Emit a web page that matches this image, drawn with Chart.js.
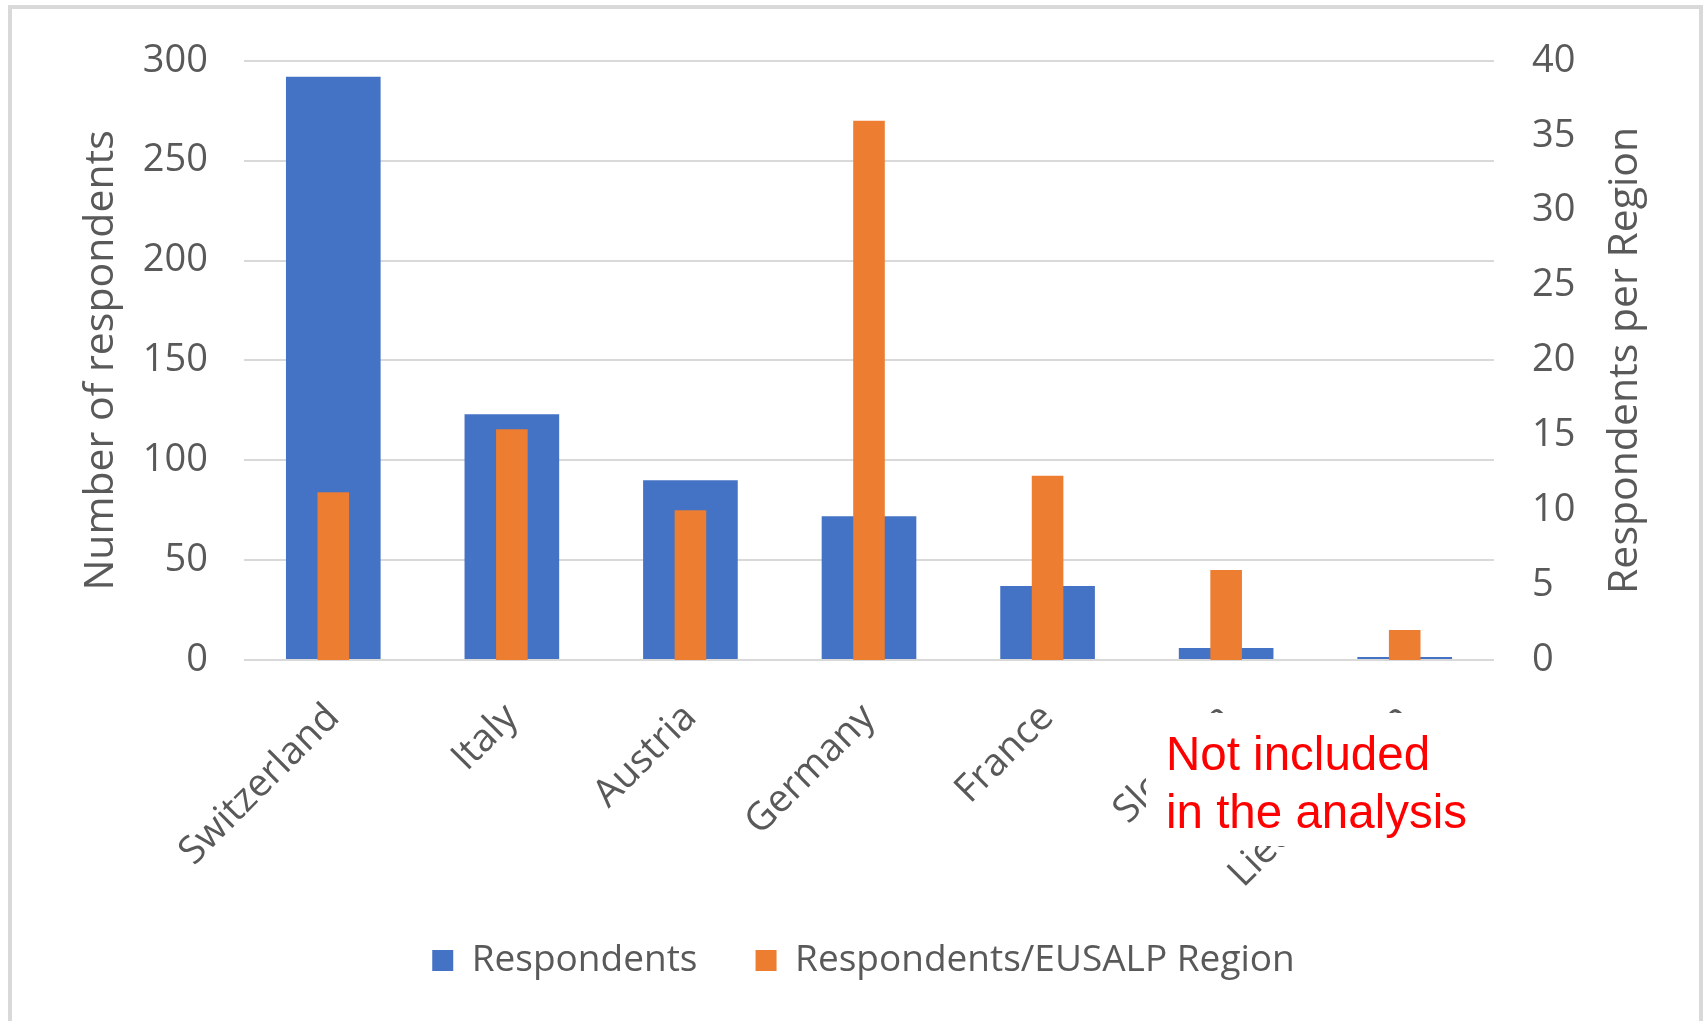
<!DOCTYPE html>
<html><head><meta charset="utf-8">
<script src="https://cdn.jsdelivr.net/npm/chart.js@4.4.1/dist/chart.umd.min.js"></script>
<style>
html,body{margin:0;padding:0;background:#fff;overflow:hidden;}
#frame{position:absolute;left:8px;top:5px;width:1695px;height:1100px;border:4px solid #d9d9d9;box-sizing:border-box;}
#wrap{position:absolute;left:0;top:0;width:1707px;height:1021px;}
</style></head><body>
<div id="frame"></div>
<div id="wrap"><canvas id="c" width="1707" height="1021"></canvas></div>
<script>
const categories = ["Switzerland","Italy","Austria","Germany","France","Slovenia","Liechtenstein"];
const respondents = [292, 123, 90, 72, 37, 6, 1.5];
const respondentsPerRegion = [11.2, 15.4, 10.0, 36.0, 12.3, 6.0, 2.0];
const seriesNames = ["Respondents", "Respondents/EUSALP Region"];
const leftAxisTitle = "Number of respondents";
const rightAxisTitle = "Respondents per Region";
const noteLines = ["Not included", "in the analysis"];

const FONT = "'Open Sans', sans-serif";
const GREY = "#595959";

const overlay = {
  id: 'overlay',
  afterDraw(chart) {
    const ctx = chart.ctx;
    const ca = chart.chartArea;
    ctx.save();
    // right axis title (reads bottom to top)
    ctx.translate(1625, (ca.top + ca.bottom) / 2);
    ctx.rotate(-Math.PI / 2);
    ctx.fillStyle = GREY;
    ctx.font = "41px " + FONT;
    ctx.textAlign = "center";
    ctx.textBaseline = "middle";
    ctx.fillText(rightAxisTitle, 0, 0);
    ctx.restore();
    // note box
    ctx.save();
    ctx.fillStyle = "#ffffff";
    ctx.fillRect(1146, 713, 334, 133);
    ctx.fillStyle = "#ff0000";
    ctx.font = "47.5px 'Liberation Sans', Arial, sans-serif";
    ctx.textAlign = "left";
    ctx.textBaseline = "alphabetic";
    ctx.fillText(noteLines[0], 1166, 770);
    ctx.fillText(noteLines[1], 1166, 828);
    ctx.restore();
  }
};

new Chart(document.getElementById('c'), {
  type: 'bar',
  data: {
    labels: categories,
    datasets: [
      { label: seriesNames[0], data: respondents, backgroundColor: '#4472C4', yAxisID: 'y',
        barPercentage: 0.53, categoryPercentage: 1, grouped: false, order: 2 },
      { label: seriesNames[1], data: respondentsPerRegion, backgroundColor: '#ED7D31', yAxisID: 'y2',
        barPercentage: 0.177, categoryPercentage: 1, grouped: false, order: 1 }
    ]
  },
  options: {
    responsive: false,
    animation: false,
    layout: { padding: { left: 60, right: 40, top: 57.5, bottom: 32 } },
    plugins: {
      tooltip: { enabled: false },
      legend: {
        position: 'bottom',
        labels: {
          font: { size: 37, family: FONT },
          color: GREY,
          boxWidth: 21, boxHeight: 21,
          padding: 10,
          sort: (a, b) => a.datasetIndex - b.datasetIndex,
          generateLabels(chart) {
            const items = Chart.defaults.plugins.legend.labels.generateLabels(chart);
            items.forEach(it => { it.lineWidth = 0; if (it.datasetIndex === 0) it.text = it.text + "     "; });
            return items;
          }
        }
      }
    },
    scales: {
      x: {
        grid: { display: false },
        border: { display: false },
        ticks: { color: GREY, font: { size: 38.5, family: FONT }, minRotation: 45, maxRotation: 45, autoSkip: false, padding: 27 },
        afterFit(s) { s.height = 272; }
      },
      y: {
        position: 'left', min: 0, max: 300,
        ticks: { stepSize: 50, color: GREY, font: { size: 38, family: FONT }, padding: 36 },
        grid: { color: '#d9d9d9', lineWidth: 2, drawTicks: false },
        border: { display: false },
        title: { display: true, text: leftAxisTitle, color: GREY, font: { size: 41, family: FONT }, padding: { top: 17, bottom: 0 } },
        afterFit(s) { s.width = 184; }
      },
      y2: {
        position: 'right', min: 0, max: 40,
        ticks: { stepSize: 5, color: GREY, font: { size: 38, family: FONT }, padding: 38 },
        grid: { display: false, drawTicks: false },
        border: { display: false },
        afterFit(s) { s.width = 173; }
      }
    }
  },
  plugins: [overlay]
});
</script>
</body></html>
